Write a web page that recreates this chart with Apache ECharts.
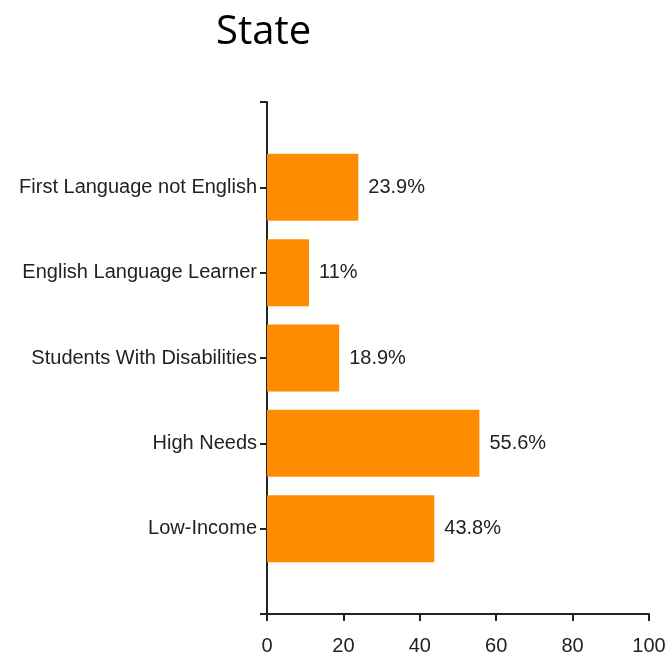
<!DOCTYPE html>
<html>
<head>
<meta charset="utf-8">
<script src="https://cdn.jsdelivr.net/npm/echarts@6/dist/echarts.min.js"></script>
<style>
  html, body { margin: 0; padding: 0; background: #fff; }
  #chart { width: 667px; height: 659px; }
</style>
</head>
<body>
<div id="chart"></div>
<script>
// categories from bottom to top, padded with blank slots at both ends
const categories = ['', 'Low-Income', 'High Needs', 'Students With Disabilities', 'English Language Learner', 'First Language not English', '']
const values = [43.8, 55.6, 18.9, 11, 23.9]
const xTicks = [0, 20, 40, 60, 80, 100]

const labelFont = "'Liberation Sans', Arial, sans-serif"
const axisColor = '#222'

// pad the values to line up with the blank slots
const barData = [null, ...values, null]

const chart = echarts.init(document.getElementById('chart'))
chart.setOption({
    animation: false,
    title: {
        text: 'State',
        left: 211,
        top: 8,
        textStyle: {
            fontFamily: "'Open Sans', 'Noto Sans', sans-serif",
            fontSize: 40,
            fontWeight: 'normal',
            color: '#000',
        },
    },
    grid: {
        left: 267,
        right: 18,
        top: 102,
        bottom: 45,
        containLabel: false,
        outerBoundsMode: 'none',
    },
    xAxis: {
        type: 'value',
        min: xTicks[0],
        max: xTicks[xTicks.length - 1],
        interval: 20,
        splitLine: { show: false },
        axisLine: { show: true, lineStyle: { color: axisColor, width: 2 } },
        axisTick: { show: true, length: 7, lineStyle: { color: axisColor, width: 2 } },
        axisLabel: {
            margin: 22,
            fontFamily: labelFont,
            fontSize: 20,
            color: '#222',
        },
    },
    yAxis: {
        type: 'category',
        data: categories,
        boundaryGap: false,
        axisLine: { show: true, lineStyle: { color: axisColor, width: 2 } },
        axisTick: { show: true, length: 7, interval: 0, lineStyle: { color: axisColor, width: 2 } },
        axisLabel: {
            interval: 0,
            margin: 10,
            fontFamily: labelFont,
            fontSize: 20,
            color: '#222',
        },
    },
    series: [
        {
            type: 'bar',
            data: barData,
            barWidth: 67,
            itemStyle: { color: '#FF8C00' },
            label: {
                show: true,
                position: 'right',
                distance: 10,
                formatter: '{c}%',
                fontFamily: labelFont,
                fontSize: 20,
                color: '#222',
            },
        },
    ],
})
</script>
</body>
</html>
